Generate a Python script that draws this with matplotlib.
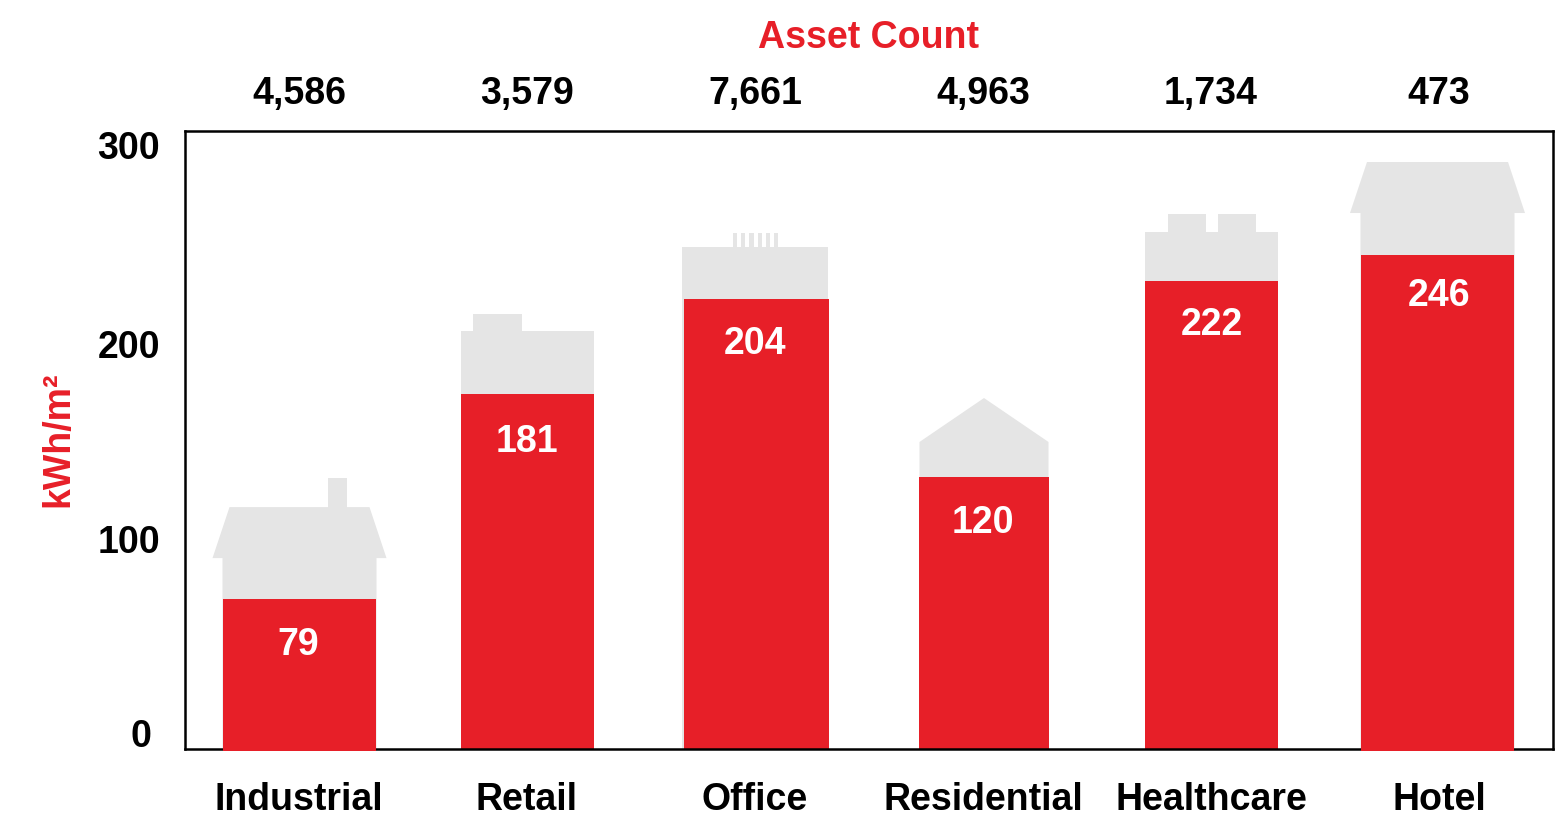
import matplotlib.pyplot as plt
from matplotlib.transforms import ScaledTranslation

plt.rcParams['font.family'] = ['Liberation Sans', 'DejaVu Sans']
plt.rcParams['font.weight'] = 'bold'

categories = ["Industrial", "Retail", "Office", "Residential", "Healthcare", "Hotel"]
asset_counts = ["4,586", "3,579", "7,661", "4,963", "1,734", "473"]
value_labels = ["79", "181", "204", "120", "222", "246"]

# bar tops as drawn in the picture (they do not follow the printed labels exactly)
bar_tops = [76.5, 181, 229.4, 138.6, 238.5, 251.8]
# grey building: top of the walls and top of the roof
wall_tops = [97.3, 213, 255.9, 156.5, 263.5, 273.2]
roof_tops = [123.3, 221.7, 263, 178.9, 272.7, 299.2]
chimney_top = 138.1

y_tick_labels = ["0", "100", "200", "300"]

# layout, measured in pixels
W, H = 1563, 816
AX_L, AX_R, AX_T, AX_B = 185, 1553, 131, 749
STEP = 228.0
YMAX = 315
PPU = (AX_B - AX_T) / YMAX
bar_x_px = [299.5, 527.5, 756.5, 984, 1211.5, 1437.5]
red_w_px = [153, 133, 145, 130, 133, 153]
grey_w_px = [154, 133, 146, 129, 133, 154]
red_overhang = [1.5, 0, 0, 0, 0, 1.5]
label_drop = [46, 48, 45, 46, 44, 41]
label_shift = [-1, -1, -1, -1, 0, 2]
tick_pos = [8.1, 107, 206.5, 308]
FS = 27

RED = '#E71F28'
GREY = '#E5E5E5'


def px(v):
    return v / STEP


def house(ax, x, w, wall, roof, over, inset):
    # wide eaves with a flat roof top
    ax.fill([x - w / 2, x - w / 2, x - w / 2 - over, x - w / 2 - over + inset,
             x + w / 2 + over - inset, x + w / 2 + over, x + w / 2, x + w / 2],
            [0, wall, wall, roof, roof, wall, wall, 0], color=GREY, lw=0, zorder=1)


def block(ax, x, w, wall):
    ax.fill([x - w / 2, x - w / 2, x + w / 2, x + w / 2], [0, wall, wall, 0],
            color=GREY, lw=0, zorder=1)


def bump(ax, left, right, y0, y1):
    ax.fill([left, left, right, right], [y0, y1, y1, y0], color=GREY, lw=0, zorder=1)


fig = plt.figure(figsize=(W / 100, H / 100), dpi=100)
ax = fig.add_axes([AX_L / W, 1 - AX_B / H, (AX_R - AX_L) / W, (AX_B - AX_T) / H])

xs = [(p - 299) / STEP for p in bar_x_px]
tick_x = list(range(len(categories)))

# grey buildings behind the bars
house(ax, xs[0], px(grey_w_px[0]), wall_tops[0], roof_tops[0], px(10), px(17))
bump(ax, xs[0] + px(28.5), xs[0] + px(47.5), roof_tops[0] - 1, chimney_top)

block(ax, xs[1], px(grey_w_px[1]), wall_tops[1])
bump(ax, xs[1] - px(54.5), xs[1] - px(5.5), wall_tops[1] - 1, roof_tops[1])

block(ax, xs[2] - px(1.5), px(grey_w_px[2]), wall_tops[2])
for k in range(6):
    left = xs[2] + px(-23.5 + 8.2 * k)
    bump(ax, left, left + px(4.2), wall_tops[2] - 1, roof_tops[2])

ax.fill([xs[3] - px(grey_w_px[3]) / 2, xs[3] - px(grey_w_px[3]) / 2, xs[3],
         xs[3] + px(grey_w_px[3]) / 2, xs[3] + px(grey_w_px[3]) / 2],
        [0, wall_tops[3], roof_tops[3], wall_tops[3], 0], color=GREY, lw=0, zorder=1)

block(ax, xs[4], px(grey_w_px[4]), wall_tops[4])
bump(ax, xs[4] - px(43.5), xs[4] - px(5.5), wall_tops[4] - 1, roof_tops[4])
bump(ax, xs[4] + px(6.5), xs[4] + px(44.5), wall_tops[4] - 1, roof_tops[4])

house(ax, xs[5], px(grey_w_px[5]), wall_tops[5], roof_tops[5], px(10.5), px(17))

# red bars, two of them run over the axis line in the original
bars = ax.bar(xs, bar_tops, width=[px(w) for w in red_w_px], color=RED, zorder=2)
for b, o in zip(bars, red_overhang):
    if o:
        b.set_y(-o / PPU)
        b.set_height(b.get_height() + o / PPU)
        b.set_clip_on(False)
        b.set_zorder(3)

for i, txt in enumerate(value_labels):
    ax.text(xs[i] + px(label_shift[i]), bar_tops[i] - label_drop[i] / PPU, txt,
            color='white', fontsize=FS, fontweight='bold', ha='center', va='center', zorder=4)

ax.set_xlim(-0.5, 5.5)
ax.set_ylim(0, YMAX)

ax.set_xticks(tick_x)
ax.set_xticklabels(categories, fontsize=FS, fontweight='bold')
ax.tick_params(axis='x', length=0, pad=24)

ax.set_yticks(tick_pos)
ax.set_yticklabels(y_tick_labels, fontsize=FS, fontweight='bold')
ax.tick_params(axis='y', length=0, pad=18)
# the 0 sits further in than the other labels
zero = ax.get_yticklabels()[0]
zero.set_transform(zero.get_transform() + ScaledTranslation(-9 / 100, 0, fig.dpi_scale_trans))

for s in ax.spines.values():
    s.set_linewidth(1.8)
    s.set_color('black')
    s.set_zorder(2.5)

ax.set_ylabel("kWh/m²", color=RED, fontsize=FS, fontweight='bold')
ax.yaxis.set_label_coords((76 - AX_L) / (AX_R - AX_L), 0.5015)

top = ax.secondary_xaxis('top')
top.set_xticks(tick_x)
top.set_xticklabels(asset_counts, fontsize=FS, fontweight='bold')
top.tick_params(axis='x', length=0, pad=14)
top.spines['top'].set_visible(False)
top.set_xlabel("Asset Count", color=RED, fontsize=FS, fontweight='bold', labelpad=20)

fig.savefig("out.png", dpi=100)
